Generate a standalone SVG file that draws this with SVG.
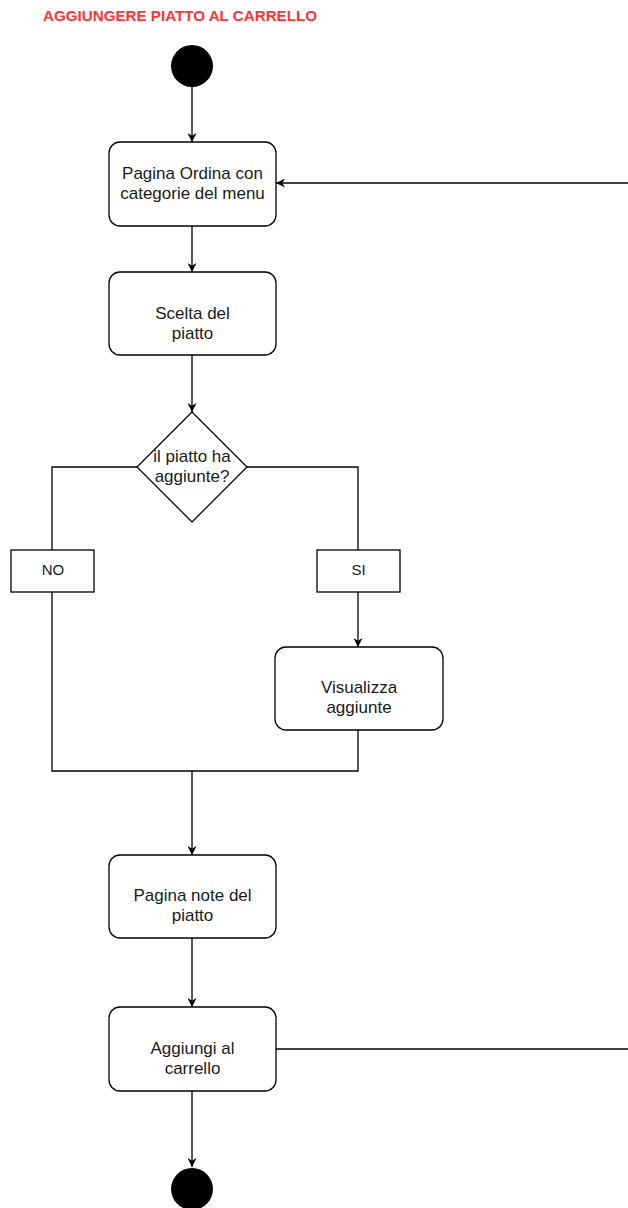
<svg xmlns="http://www.w3.org/2000/svg" width="628" height="1208" viewBox="0 0 628 1208">
<style>
.node{fill:#fff;stroke:#000;stroke-width:1.3}
.lbl{font-family:"Liberation Sans",Arial,sans-serif;font-size:17px;fill:#1a1a1a;text-anchor:middle}
.sm{font-size:15px}
.edge{fill:none;stroke:#000;stroke-width:1.3}
.title{font-family:"Liberation Sans",Arial,sans-serif;font-size:15px;font-weight:bold;fill:#FF3333}
</style>
<defs>
<marker id="arr" viewBox="0 0 10 10" refX="10" refY="5" markerWidth="9" markerHeight="9" markerUnits="userSpaceOnUse" orient="auto">
<path d="M0,0 L10,5 L0,10 L3,5 z" fill="#000"/>
</marker>
</defs>
<rect width="628" height="1208" fill="#fff"/>
<text class="title" x="43" y="21" textLength="274" lengthAdjust="spacingAndGlyphs">AGGIUNGERE PIATTO AL CARRELLO</text>
<g id="connectors">
<path class="edge" d="M192,87 L192,142" marker-end="url(#arr)"/>
<path class="edge" d="M628,183 L276,183" marker-end="url(#arr)"/>
<path class="edge" d="M192,226 L192,272" marker-end="url(#arr)"/>
<path class="edge" d="M192,355 L192,412" marker-end="url(#arr)"/>
<path class="edge" d="M137,467 L52,467 L52,550"/>
<path class="edge" d="M247,467 L358,467 L358,550"/>
<path class="edge" d="M358,592 L358,647" marker-end="url(#arr)"/>
<path class="edge" d="M358,730 L358,771 L52,771 L52,592"/>
<path class="edge" d="M192,771 L192,855" marker-end="url(#arr)"/>
<path class="edge" d="M192,938 L192,1007" marker-end="url(#arr)"/>
<path class="edge" d="M276,1049 L628,1049"/>
<path class="edge" d="M192,1091 L192,1167" marker-end="url(#arr)"/>
</g>
<g id="start"><circle cx="192" cy="66" r="21" fill="#000"/></g>
<g id="n1"><rect class="node" x="109" y="142" width="167" height="84" rx="11"/>
<text class="lbl" x="192.5" y="179">Pagina Ordina con</text><text class="lbl" x="192.5" y="199">categorie del menu</text></g>
<g id="n2"><rect class="node" x="109" y="272" width="167" height="83" rx="11"/>
<text class="lbl" x="192.5" y="318.5">Scelta del</text><text class="lbl" x="192.5" y="338.5">piatto</text></g>
<g id="decision"><path class="node" d="M192,412 L247,467 L192,522 L137,467 Z"/>
<text class="lbl" x="192" y="462">il piatto ha</text><text class="lbl" x="192" y="482">aggiunte?</text></g>
<g id="no"><rect class="node" x="11" y="550" width="83" height="42"/><text class="lbl sm" x="53" y="575">NO</text></g>
<g id="si"><rect class="node" x="317" y="550" width="83" height="42"/><text class="lbl sm" x="358.5" y="575">SI</text></g>
<g id="n3"><rect class="node" x="275" y="647" width="168" height="83" rx="11"/>
<text class="lbl" x="359" y="693">Visualizza</text><text class="lbl" x="359" y="713">aggiunte</text></g>
<g id="n4"><rect class="node" x="109" y="855" width="167" height="83" rx="11"/>
<text class="lbl" x="192.5" y="901">Pagina note del</text><text class="lbl" x="192.5" y="921">piatto</text></g>
<g id="n5"><rect class="node" x="109" y="1007" width="167" height="84" rx="11"/>
<text class="lbl" x="192.5" y="1054">Aggiungi al</text><text class="lbl" x="192.5" y="1074">carrello</text></g>
<g id="end"><circle cx="192" cy="1189" r="21" fill="#000"/></g>
</svg>
